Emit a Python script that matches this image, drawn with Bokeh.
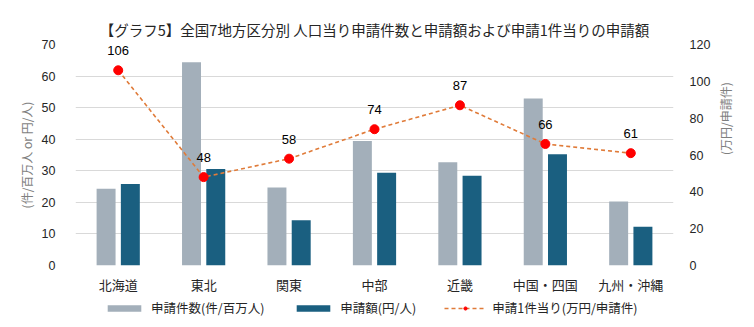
import math
from bokeh.plotting import figure
from bokeh.layouts import column
from bokeh.models import (FactorRange, Range1d, LinearAxis, ColumnDataSource, LabelSet,
                          Legend, LegendItem, FixedTicker, Title)
from bokeh.core.properties import value
from bokeh.transform import dodge
from bokeh.embed import file_html
from bokeh.resources import INLINE

regions = ["北海道", "東北", "関東", "中部", "近畿", "中国・四国", "九州・沖縄"]
applications = [24.3, 64.4, 24.7, 39.4, 32.7, 52.9, 20.3]   # 申請件数(件/百万人)
amount = [25.8, 30.6, 14.3, 29.4, 28.4, 35.2, 12.3]         # 申請額(円/人)
per_case = [106, 48, 58, 74, 87, 66, 61]                    # 申請1件当り(万円/申請件)
left_ticks = [0, 10, 20, 30, 40, 50, 60, 70]
right_ticks = [0, 20, 40, 60, 80, 100, 120]
series_names = ["申請件数(件/百万人)", "申請額(円/人)", "申請1件当り(万円/申請件)"]

JP = "Noto Sans CJK JP"
NUM = "Liberation Sans"
C_GREY, C_BLUE, C_LINE, C_DOT = "#A3AFBA", "#1A5F80", "#E07B39", "#FF0000"

src = ColumnDataSource(dict(x=regions, a=applications, b=amount, c=per_case,
                            lab=[str(v) for v in per_case]))

p = figure(x_range=FactorRange(*regions), y_range=Range1d(0, 70),
           frame_width=598, frame_height=221, output_backend="svg", toolbar_location=None,
           min_border_left=75, min_border_right=81, min_border_top=44, min_border_bottom=29)
p.extra_y_ranges = {"right": Range1d(0, 120)}

p.title = Title(text="【グラフ5】全国7地方区分別 人口当り申請件数と申請額および申請1件当りの申請額",
                text_font=JP, text_font_size="14.5px", text_font_style="normal",
                text_color="#262626", align="center", standoff=9)

p.vbar(x=dodge("x", -0.142, range=p.x_range), top="a", width=0.222, source=src,
       fill_color=C_GREY, line_color=None)
p.vbar(x=dodge("x", 0.142, range=p.x_range), top="b", width=0.222, source=src,
       fill_color=C_BLUE, line_color=None)
p.line(x="x", y="c", source=src, y_range_name="right", line_color=C_LINE,
       line_width=1.6, line_dash="4 3")
p.scatter(x="x", y="c", source=src, y_range_name="right", size=9,
          fill_color=C_DOT, line_color=C_DOT)

labels = LabelSet(x="x", y="c", text="lab", source=src, y_range_name="right",
                  y_offset=15, text_align="center", text_baseline="alphabetic",
                  text_font=value(NUM), text_font_size=value("13px"), text_color="#000000")
p.add_layout(labels)

# axes
p.yaxis.ticker = FixedTicker(ticks=left_ticks)
p.yaxis.axis_label = "(件/百万人 or 円/人)"
ry = LinearAxis(y_range_name="right", ticker=FixedTicker(ticks=right_ticks),
                axis_label="(万円/申請件)")
p.add_layout(ry, "right")

for ax in [p.yaxis[0], ry]:
    ax.axis_line_color = None
    ax.major_tick_line_color = None
    ax.minor_tick_line_color = None
    ax.major_label_text_font = NUM
    ax.major_label_text_font_size = "12.5px"
    ax.major_label_text_color = "#262626"
    ax.axis_label_text_font = JP
    ax.axis_label_text_font_size = "12px"
    ax.axis_label_text_font_style = "normal"
    ax.axis_label_text_color = "#7F7F7F"
p.yaxis[0].major_label_standoff = 14
p.yaxis[0].axis_label_standoff = 4
ry.major_label_standoff = 10
ry.axis_label_standoff = 12
try:
    ry.axis_label_orientation = math.pi / 2
except Exception:
    pass

p.xaxis.axis_line_color = None
p.xaxis.major_tick_line_color = None
p.xaxis.major_tick_out = 0
p.xaxis.major_tick_in = 0
p.xaxis.major_label_text_font = JP
p.xaxis.major_label_text_font_size = "13px"
p.xaxis.major_label_text_color = "#262626"
p.xaxis.major_label_standoff = 9

p.xgrid.grid_line_color = None
p.ygrid.grid_line_color = "#D9D9D9"
p.ygrid.grid_line_width = 1
p.outline_line_color = None

# legend strip below the chart (proxy renderers sit outside its visible range)
lf = figure(x_range=Range1d(0, 1), y_range=Range1d(0, 1), frame_width=754, frame_height=33,
            output_backend="svg", toolbar_location=None,
            min_border_left=0, min_border_right=0, min_border_top=0, min_border_bottom=0)
lf.axis.visible = False
lf.grid.visible = False
lf.outline_line_color = None
proxy = ColumnDataSource(dict(x=[per_case[0]], y=[per_case[0]]))
g1 = lf.vbar(x="x", top="y", width=0.1, source=proxy, fill_color=C_GREY, line_color=None)
g2 = lf.vbar(x="x", top="y", width=0.1, source=proxy, fill_color=C_BLUE, line_color=None)
g3 = lf.line(x="x", y="y", source=proxy, line_color=C_LINE, line_width=1.6, line_dash="4 3")
g4 = lf.scatter(x="x", y="y", source=proxy, size=9, fill_color=C_DOT, line_color=C_DOT)

legend = Legend(items=[LegendItem(label=series_names[0], renderers=[g1]),
                       LegendItem(label=series_names[1], renderers=[g2]),
                       LegendItem(label=series_names[2], renderers=[g3, g4])],
                orientation="horizontal", location=(103, 12),
                label_text_font=JP, label_text_font_size="12.5px", label_text_color="#262626",
                glyph_width=42, glyph_height=8, label_standoff=6, spacing=28,
                padding=0, margin=0, border_line_color=None, background_fill_alpha=0)
lf.add_layout(legend, "center")

layout = column(p, lf, spacing=0)

open("out.html", "w").write(file_html(layout, INLINE))
